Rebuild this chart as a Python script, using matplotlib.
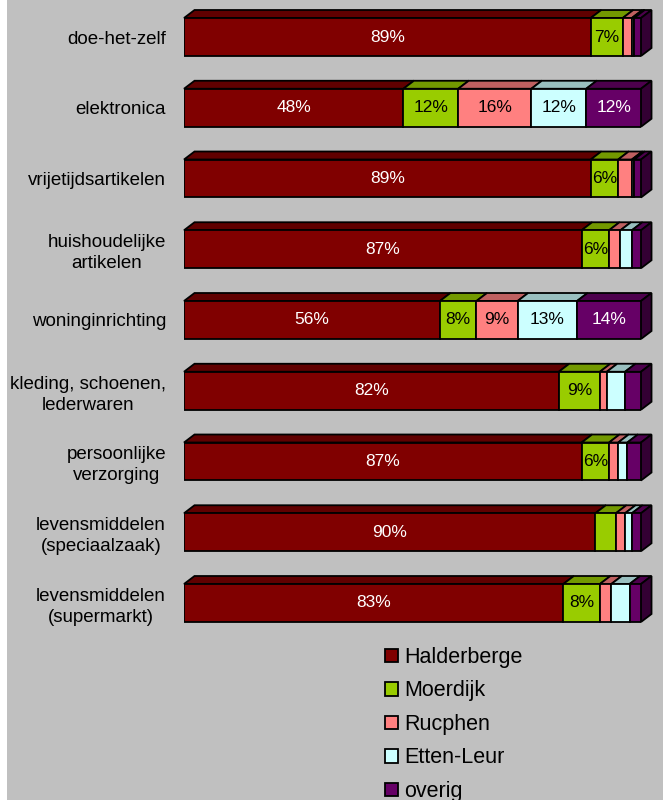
import matplotlib
matplotlib.use('Agg')
import matplotlib.pyplot as plt
from matplotlib.patches import Polygon, Rectangle
from matplotlib.colors import to_rgb
import numpy as np

plt.rcParams['font.family'] = ['Liberation Sans', 'DejaVu Sans']

# --- data ---
categorieen = ['doe-het-zelf', 'elektronica', 'vrijetijdsartikelen',
               'huishoudelijke\nartikelen', 'woninginrichting',
               'kleding, schoenen,\nlederwaren', 'persoonlijke\nverzorging',
               'levensmiddelen\n(speciaalzaak)', 'levensmiddelen\n(supermarkt)']
reeksen = ['Halderberge', 'Moerdijk', 'Rucphen', 'Etten-Leur', 'overig']
halderberge = [89, 48, 89, 87, 56, 82, 87, 90, 83]
moerdijk    = [7, 12, 6, 6, 8, 9, 6, 4.5, 8]
rucphen     = [2, 16, 3, 2.5, 9, 1.5, 2, 2, 2.5]
etten_leur  = [0.5, 12, 0.5, 2.5, 13, 4, 2, 1.5, 4]
overig      = [1.5, 12, 1.5, 2, 14, 3.5, 3, 2, 2.5]

kleuren = ['#800000', '#99CC00', '#FF8080', '#CCFFFF', '#660066']
tekstkleur = ['white', 'black', 'black', 'black', 'white']

waarden = np.array([halderberge, moerdijk, rucphen, etten_leur, overig], dtype=float)

def donker(kleur, f):
    r, g, b = to_rgb(kleur)
    return (r * f, g * f, b * f)

fig = plt.figure(figsize=(6.63, 8), dpi=100, facecolor='#C0C0C0')
fig.patches.append(Rectangle((0, 0), 7 / 663, 1, transform=fig.transFigure,
                             facecolor='white', edgecolor='none', zorder=-1))

ax = fig.add_axes([184 / 663, 160 / 800, 457 / 663, 640 / 800])
ax.set_facecolor('none')
ax.set_xlim(0, 100)
ax.set_ylim(8.523, -0.523)

y = np.arange(len(categorieen))
hoogte = 0.537
dx = 2.3      # diepte in procenten
dy = 0.113    # diepte in y-eenheden

links = np.zeros(len(categorieen))
handles = []
for k, naam in enumerate(reeksen):
    w = waarden[k]
    b = ax.barh(y, w, left=links, height=hoogte, color=kleuren[k],
                edgecolor='black', linewidth=1.3, label=naam, zorder=3)
    handles.append(b)
    for i in range(len(y)):
        x0 = links[i]
        x1 = links[i] + w[i]
        ytop = y[i] - hoogte / 2
        # bovenvlak
        top = Polygon([(x0, ytop), (x1, ytop), (x1 + dx, ytop - dy), (x0 + dx, ytop - dy)],
                      closed=True, facecolor=donker(kleuren[k], 0.75),
                      edgecolor='black', linewidth=1.3, zorder=2, clip_on=False)
        ax.add_patch(top)
        if w[i] >= 5:
            ax.text(x0 + w[i] / 2, y[i], f'{w[i]:.0f}%', ha='center', va='center',
                    color=tekstkleur[k], fontsize=12.5, zorder=5)
    links = links + w

# zijvlak van de laatste reeks
for i in range(len(y)):
    x1 = links[i]
    ytop = y[i] - hoogte / 2
    ybot = y[i] + hoogte / 2
    side = Polygon([(x1, ytop), (x1 + dx, ytop - dy), (x1 + dx, ybot - dy), (x1, ybot)],
                   closed=True, facecolor=donker(kleuren[-1], 0.5),
                   edgecolor='black', linewidth=1.3, zorder=2, clip_on=False)
    ax.add_patch(side)

ax.set_yticks(y)
ax.set_yticklabels(categorieen, fontsize=13.5)
for lbl in ax.get_yticklabels():
    lbl.set_multialignment('center')
    lbl.set_linespacing(1.3)
ax.tick_params(axis='y', length=0, pad=13)
ax.set_xticks([])
for s in ax.spines.values():
    s.set_visible(False)

leg = fig.legend(handles=handles, labels=reeksen, loc='upper left',
                 bbox_to_anchor=(385 / 663, 1 - 647 / 800), frameon=False,
                 fontsize=15.5, handlelength=0.6, handleheight=0.6,
                 handletextpad=0.3, labelspacing=0.58, borderpad=0,
                 borderaxespad=0)

fig.savefig('out.png', dpi=100, facecolor=fig.get_facecolor())
